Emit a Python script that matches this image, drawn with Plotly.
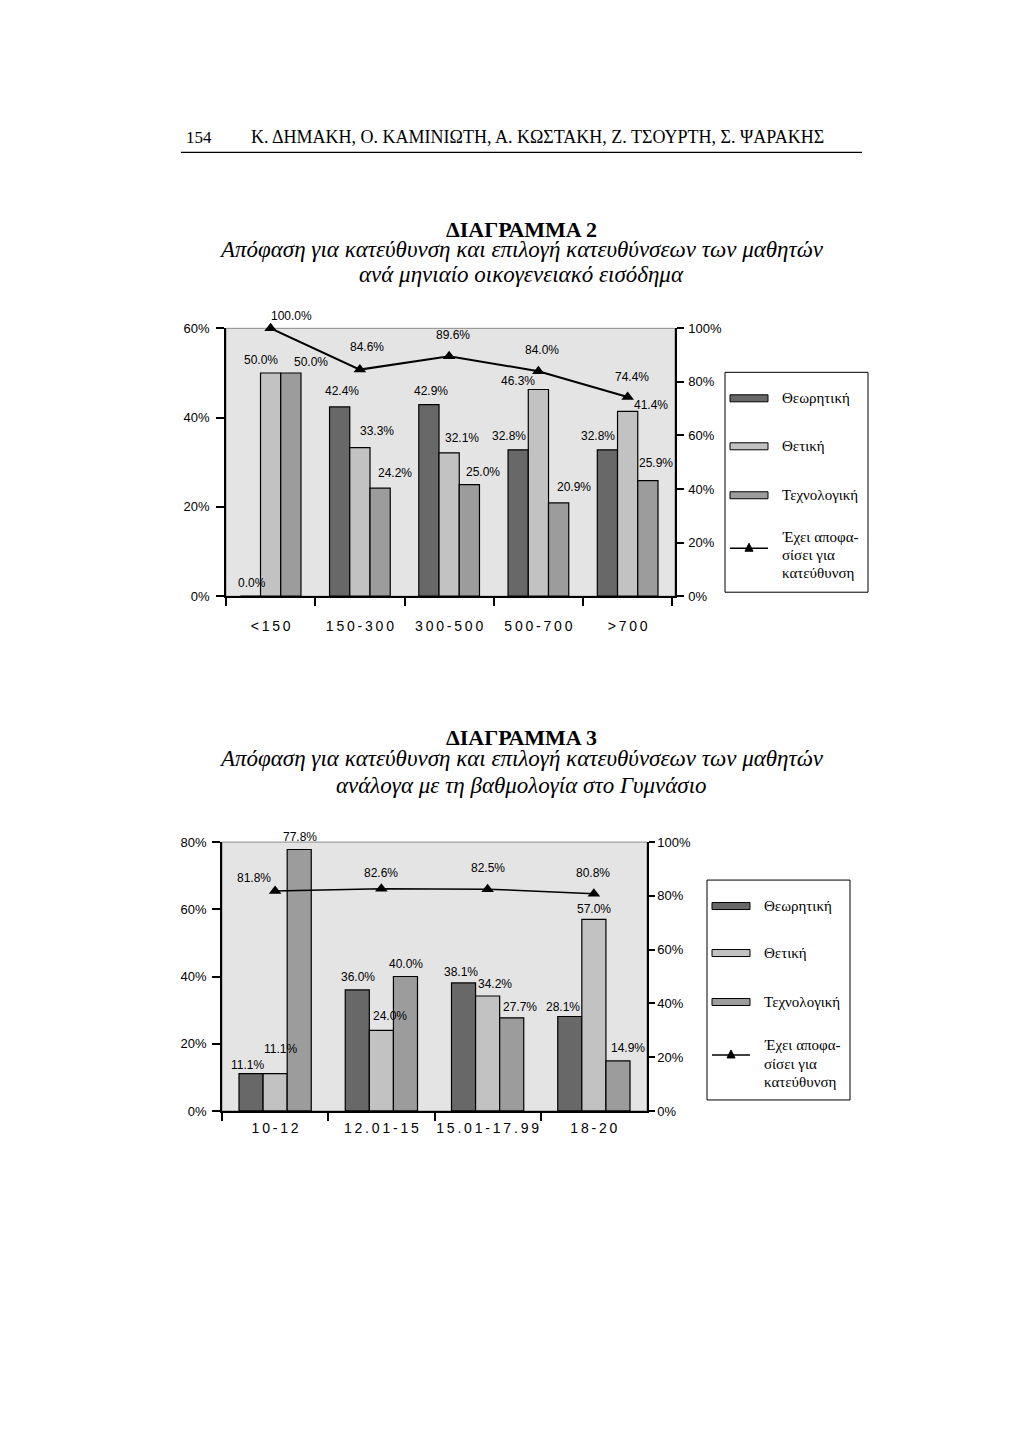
import plotly.graph_objects as go

# page is 1024x1446; the figure sits inside the default 8px body margin
PAGE_W, PAGE_H = 1024, 1446
OFF = 8
W, H = PAGE_W - 2 * OFF, PAGE_H - 2 * OFF

# ---------------- data ----------------
income_cats = ["<150", "150-300", "300-500", "500-700", ">700"]
income_theor = [0.0, 42.4, 42.9, 32.8, 32.8]
income_thet = [50.0, 33.3, 32.1, 46.3, 41.4]
income_tech = [50.0, 24.2, 25.0, 20.9, 25.9]
income_decided = [100.0, 84.6, 89.6, 84.0, 74.4]

grade_cats = ["10-12", "12.01-15", "15.01-17.99", "18-20"]
grade_theor = [11.1, 36.0, 38.1, 28.1]
grade_thet = [11.1, 24.0, 34.2, 57.0]
grade_tech = [77.8, 40.0, 27.7, 14.9]
grade_decided = [81.8, 82.6, 82.5, 80.8]

series_names = ["Θεωρητική", "Θετική", "Τεχνολογική"]
decided_name = "Έχει αποφασίσει για κατεύθυνση"
decided_legend_lines = ["Έχει αποφα-", "σίσει για", "κατεύθυνση"]

left_ticks_1 = [0, 20, 40, 60]
left_ticks_2 = [0, 20, 40, 60, 80]
right_ticks = [0, 20, 40, 60, 80, 100]

header_page = "154"
header_authors = "Κ. ΔΗΜΑΚΗ, Ο. ΚΑΜΙΝΙΩΤΗ, Α. ΚΩΣΤΑΚΗ, Ζ. ΤΣΟΥΡΤΗ, Σ. ΨΑΡΑΚΗΣ"
title_2 = "ΔΙΑΓΡΑΜΜΑ 2"
sub_2 = ["Απόφαση για κατεύθυνση και επιλογή κατευθύνσεων των μαθητών",
         "ανά μηνιαίο οικογενειακό εισόδημα"]
title_3 = "ΔΙΑΓΡΑΜΜΑ 3"
sub_3 = ["Απόφαση για κατεύθυνση και επιλογή κατευθύνσεων των μαθητών",
         "ανάλογα με τη βαθμολογία στο Γυμνάσιο"]

# ---------------- label nudges (px, style only) ----------------
inc_dx = [[2, 2, 2, -9, -9], [-10, 17, 13, -20, 23], [20, 15, 14, 15, 8]]
inc_dy = [[13, 16, 14, 14, 14], [13, 17, 15, 9, 6], [11, 15, 13, 16, 18]]
inc_line_dx = [21, 7, 4, 4, 4]
inc_line_dy = [12, 23, 21, 21, 20]
grd_dx = [[-4, 1, -3, -7], [5, 9, 7, 0], [1, 1, 8, 10]]
grd_dy = [[9, 13, 11, 10], [25, 14, 12, 10], [12, 13, 11, 13]]
grd_line_dx = [-21, 0, 0, -1]
grd_line_dy = [13, 16, 21, 21]

# ---------------- styles ----------------
bar_colors = ["#686868", "#c2c2c2", "#9c9c9c"]
SANS = "Liberation Sans, Arial, sans-serif"
SERIF = "Liberation Serif, Times New Roman, serif"
BARGAP = 0.32
YS, YB = 0.99, 14.5   # measured vertical mapping of the photographed page


def px(x):
    return (x - OFF) / W


def py(y):
    return 1 - ((y - YB) / YS) / H


def spaced(s):
    return "\u2009".join(list(s))


def pct(ticks):
    return ["{}%".format(t) for t in ticks]


fig = go.Figure()
label_font = dict(family=SANS, size=12, color="black")

for name, vals, col in zip(series_names, [income_theor, income_thet, income_tech], bar_colors):
    fig.add_trace(go.Bar(
        x=income_cats, y=vals, name=name, marker=dict(color=col, line=dict(color="black", width=1.2)),
        xaxis="x", yaxis="y", showlegend=False, offsetgroup=name))
fig.add_trace(go.Scatter(
    x=income_cats, y=income_decided, name=decided_name, mode="lines+markers",
    line=dict(color="black", width=2), marker=dict(symbol="triangle-up", size=11, color="black"),
    cliponaxis=False, xaxis="x", yaxis="y2", showlegend=False))

for name, vals, col in zip(series_names, [grade_theor, grade_thet, grade_tech], bar_colors):
    fig.add_trace(go.Bar(
        x=grade_cats, y=vals, name=name, marker=dict(color=col, line=dict(color="black", width=1.2)),
        xaxis="x2", yaxis="y3", showlegend=False, offsetgroup=name))
fig.add_trace(go.Scatter(
    x=grade_cats, y=grade_decided, name=decided_name, mode="lines+markers",
    line=dict(color="black", width=1.5), marker=dict(symbol="triangle-up", size=11, color="black"),
    cliponaxis=False, xaxis="x2", yaxis="y4", showlegend=False))

tickfont = dict(family=SANS, size=13, color="black")
catfont = dict(family=SANS, size=14, color="black")

c1 = dict(x0=226, x1=675, y0=328, y1=596)
c2 = dict(x0=222, x1=647, y0=842, y1=1111)

common_y = dict(showgrid=False, zeroline=False, showline=True, linecolor="black", linewidth=1.5,
                ticks="outside", tickcolor="black", tickwidth=1.5, tickfont=tickfont,
                tickmode="array", fixedrange=True)
common_x = dict(type="category", showgrid=False, zeroline=False, showline=True, linecolor="black",
                linewidth=1.5, ticks="outside", tickson="boundaries", ticklen=8, tickcolor="black",
                tickwidth=1.5, tickfont=catfont, tickmode="array", tickangle=0)

fig.update_layout(
    width=W, height=H, margin=dict(l=0, r=0, t=0, b=0),
    paper_bgcolor="white", plot_bgcolor="#e4e4e4",
    barmode="group", bargap=BARGAP, bargroupgap=0,
    xaxis=dict(domain=[px(c1["x0"]), px(c1["x1"])], anchor="y", ticklabelstandoff=16,
               tickvals=income_cats, ticktext=[spaced(c) for c in income_cats], **common_x),
    yaxis=dict(domain=[py(c1["y1"]), py(c1["y0"])], anchor="x", range=[0, 60],
               tickvals=left_ticks_1, ticktext=pct(left_ticks_1), ticklen=8, ticklabelstandoff=4, **common_y),
    yaxis2=dict(overlaying="y", side="right", anchor="x", range=[0, 100], tickvals=right_ticks,
                ticktext=pct(right_ticks), ticklen=7, ticklabelstandoff=2, **common_y),
    xaxis2=dict(domain=[px(c2["x0"]), px(c2["x1"])], anchor="y3", ticklabelstandoff=3,
                tickvals=grade_cats, ticktext=[spaced(c) for c in grade_cats], **common_x),
    yaxis3=dict(domain=[py(c2["y1"]), py(c2["y0"])], anchor="x2", range=[0, 80],
                tickvals=left_ticks_2, ticktext=pct(left_ticks_2), ticklen=8, ticklabelstandoff=3, **common_y),
    yaxis4=dict(overlaying="y3", side="right", anchor="x2", range=[0, 100], tickvals=right_ticks,
                ticktext=pct(right_ticks), ticklen=6, ticklabelstandoff=0, **common_y),
)

shapes = []
annotations = []


def value_labels(cats, series, dxs, dys, line_vals, line_dx, line_dy, xref, yref, yref_line, plot_w):
    bar_w = plot_w / len(cats) * (1 - BARGAP) / len(series)
    for k, (vals, dxk, dyk) in enumerate(zip(series, dxs, dys)):
        group_off = (k - (len(series) - 1) / 2) * bar_w
        for c, v, dx, dy in zip(cats, vals, dxk, dyk):
            annotations.append(dict(text="{:.1f}%".format(v), x=c, y=v, xref=xref, yref=yref,
                                    xshift=group_off + dx, yshift=dy, showarrow=False,
                                    xanchor="center", yanchor="middle", font=label_font))
    for c, v, dx, dy in zip(cats, line_vals, line_dx, line_dy):
        annotations.append(dict(text="{:.1f}%".format(v), x=c, y=v, xref=xref, yref=yref_line,
                                xshift=dx, yshift=dy, showarrow=False,
                                xanchor="center", yanchor="middle", font=label_font))


value_labels(income_cats, [income_theor, income_thet, income_tech], inc_dx, inc_dy,
             income_decided, inc_line_dx, inc_line_dy, "x", "y", "y2", c1["x1"] - c1["x0"])
value_labels(grade_cats, [grade_theor, grade_thet, grade_tech], grd_dx, grd_dy,
             grade_decided, grd_line_dx, grd_line_dy, "x2", "y3", "y4", c2["x1"] - c2["x0"])

# header
shapes.append(dict(type="line", xref="paper", yref="paper", x0=px(181), x1=px(862), y0=py(152), y1=py(152),
                   line=dict(color="black", width=1.2)))
annotations.append(dict(text=header_page, xref="paper", yref="paper", x=px(184), y=py(137),
                        xanchor="left", yanchor="middle", showarrow=False,
                        font=dict(family=SERIF, size=17, color="black")))
annotations.append(dict(text=header_authors, xref="paper", yref="paper", x=px(537), y=py(137),
                        xanchor="center", yanchor="middle", showarrow=False,
                        font=dict(family=SERIF, size=18, color="black")))


def add_titles(title, subs, ty, sy):
    annotations.append(dict(text="<b>" + title + "</b>", xref="paper", yref="paper", x=px(521), y=py(ty),
                            xanchor="center", yanchor="middle", showarrow=False,
                            font=dict(family=SERIF, size=22, color="black")))
    for s, yy in zip(subs, sy):
        annotations.append(dict(text="<i>" + s + "</i>", xref="paper", yref="paper", x=px(521), y=py(yy),
                                xanchor="center", yanchor="middle", showarrow=False,
                                font=dict(family=SERIF, size=23, color="black")))


add_titles(title_2, sub_2, 229, [249, 274])
add_titles(title_3, sub_3, 737, [758, 785])

# plot-area gray border
for c in (c1, c2):
    shapes.append(dict(type="rect", xref="paper", yref="paper", x0=px(c["x0"]), x1=px(c["x1"]),
                       y0=py(c["y1"]), y1=py(c["y0"]), line=dict(color="#8a8a8a", width=1), layer="below"))


def add_legend(bx0, by0, bx1, by1, rows, line_y, text_lines_y):
    shapes.append(dict(type="rect", xref="paper", yref="paper", x0=px(bx0), x1=px(bx1), y0=py(by1), y1=py(by0),
                       line=dict(color="black", width=1), fillcolor="white"))
    sx0, sx1 = bx0 + 5, bx0 + 43
    for (name, col), yy in zip(zip(series_names, bar_colors), rows):
        shapes.append(dict(type="rect", xref="paper", yref="paper", x0=px(sx0), x1=px(sx1),
                           y0=py(yy + 3.5), y1=py(yy - 3.5), fillcolor=col, line=dict(color="black", width=1)))
        annotations.append(dict(text=name, xref="paper", yref="paper", x=px(bx0 + 55), y=py(yy),
                                xanchor="left", yanchor="middle", showarrow=False,
                                font=dict(family=SERIF, size=15, color="black")))
    shapes.append(dict(type="line", xref="paper", yref="paper", x0=px(sx0), x1=px(sx1),
                       y0=py(line_y), y1=py(line_y), line=dict(color="black", width=1.5)))
    cx = (sx0 + sx1) / 2
    path = "M {} {} L {} {} L {} {} Z".format(px(cx - 4), py(line_y + 3), px(cx + 4), py(line_y + 3),
                                              px(cx), py(line_y - 5))
    shapes.append(dict(type="path", xref="paper", yref="paper", path=path, fillcolor="black",
                       line=dict(color="black", width=1)))
    for t, yy in zip(decided_legend_lines, text_lines_y):
        annotations.append(dict(text=t, xref="paper", yref="paper", x=px(bx0 + 55), y=py(yy),
                                xanchor="left", yanchor="middle", showarrow=False,
                                font=dict(family=SERIF, size=15, color="black")))


add_legend(725, 372, 868, 592, [398, 446, 495], 548, [537, 555, 573])
add_legend(707, 880, 850, 1100, [906, 953, 1002], 1055, [1045, 1064, 1082])

fig.update_layout(shapes=shapes, annotations=annotations)

fig.write_html("out.html")
